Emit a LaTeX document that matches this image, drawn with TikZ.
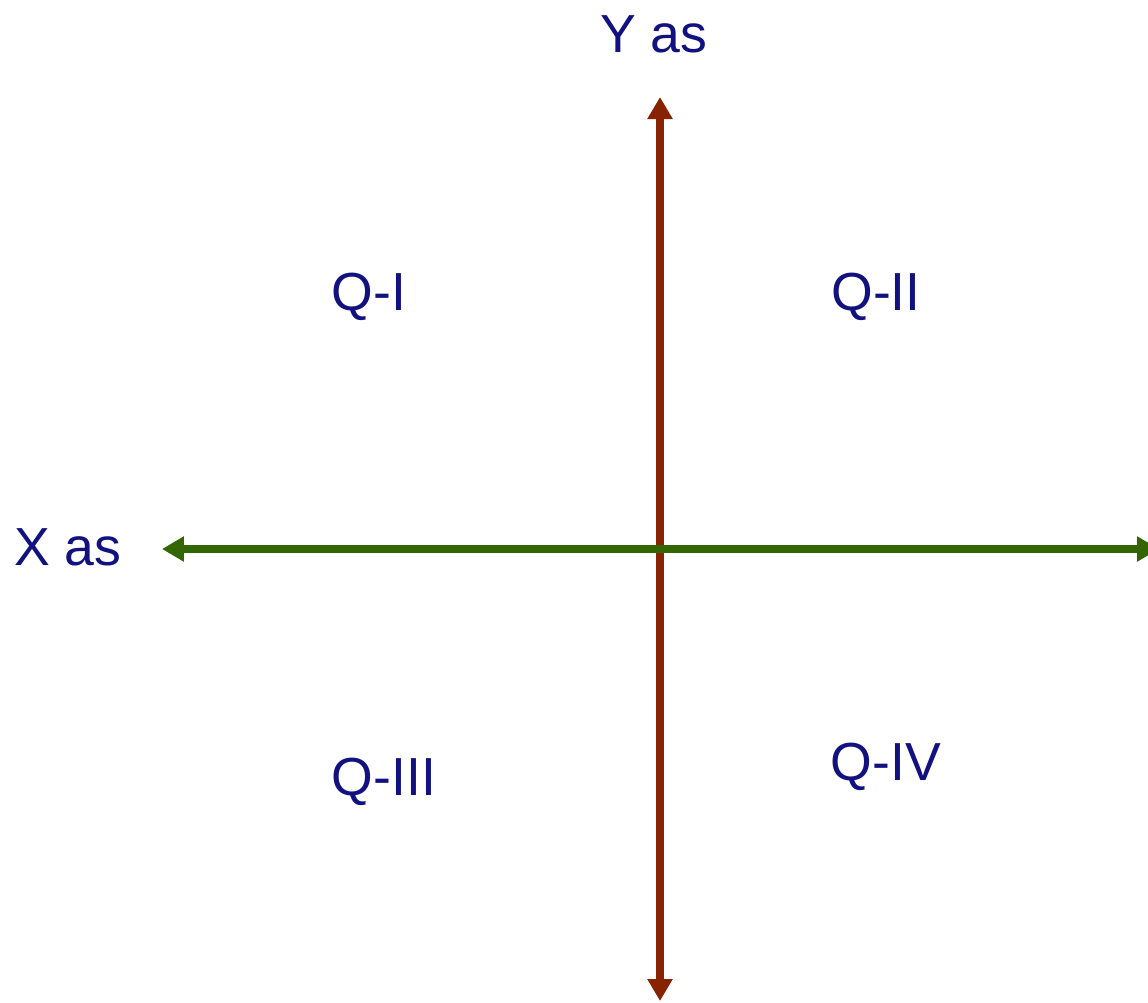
\documentclass[tikz,border=0pt]{standalone}
\usepackage{fontspec}
\setmainfont{Liberation Sans}
\usepackage{tikz}
\usetikzlibrary{arrows.meta}

\definecolor{labelblue}{RGB}{17,17,128}
\definecolor{yaxisbrown}{RGB}{135,35,0}
\definecolor{xaxisgreen}{RGB}{51,102,0}

\begin{document}
\begin{tikzpicture}[
        x=0.02cm, y=-0.02cm,
        label/.style={
            text=labelblue,
            anchor=base,
            inner sep=0pt,
            font=\fontsize{30.5}{36}\selectfont
        },
        axis/.style={
            line width=7.5*0.02cm,
            {Triangle[length=0.44cm,width=0.48cm]}-{Triangle[length=0.44cm,width=0.48cm]}
        }
    ]
        \useasboundingbox (0,0) rectangle (1148,1002);
        \clip (0,0) rectangle (1148,1002);

        \coordinate (ytop) at (660,97);
        \coordinate (ybot) at (660,1001);
        \coordinate (xleft) at (162,549);
        \coordinate (xright) at (1159,549);

        \node[label] (ylabel) at (654,52) {Y as};
        \node[label] (xlabel) at (68,565) {X as};
        \node[label] (q1) at (369,310) {Q-I};
        \node[label] (q2) at (876,310) {Q-II};
        \node[label] (q3) at (384,795) {Q-III};
        \node[label] (q4) at (886,780) {Q-IV};

        \draw[axis, draw=yaxisbrown, fill=yaxisbrown] (ybot) -- (ytop);
        \draw[axis, draw=xaxisgreen, fill=xaxisgreen] (xleft) -- (xright);
    \end{tikzpicture}
\end{document}
